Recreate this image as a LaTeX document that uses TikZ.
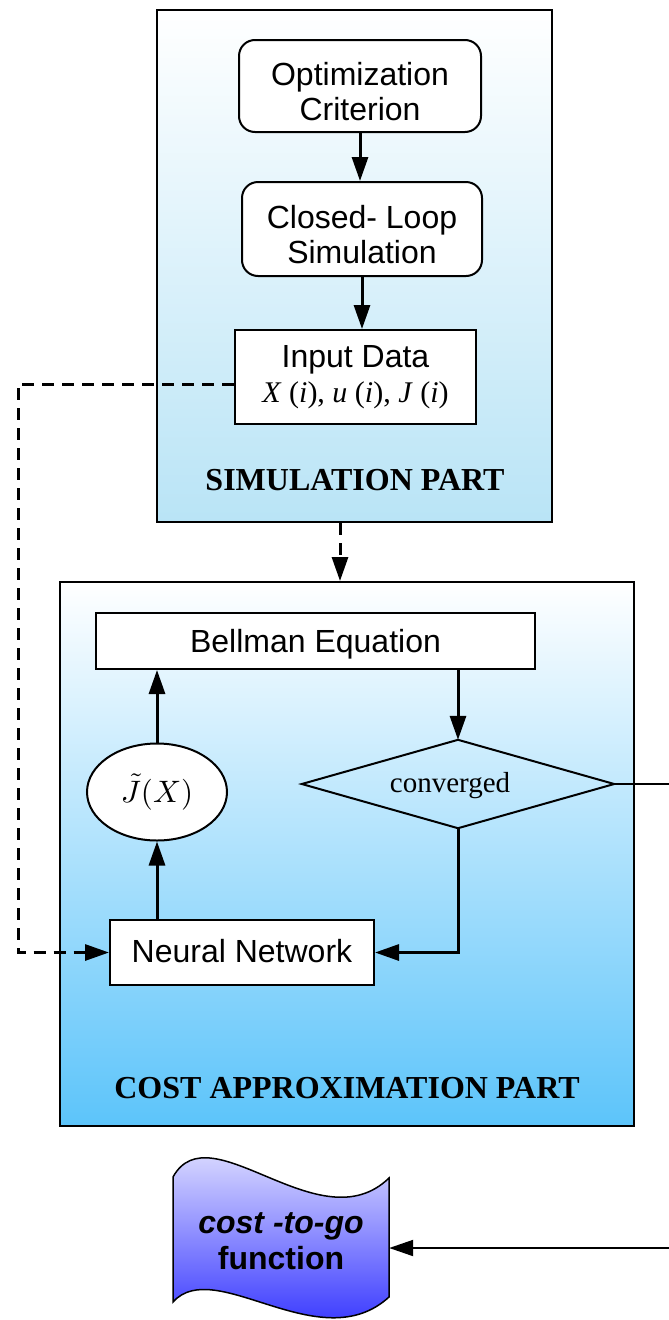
\documentclass[tikz,border=0pt]{standalone}
\usepackage{fontspec}
\setmainfont{Liberation Serif}
\setsansfont{Liberation Sans}
\usetikzlibrary{arrows.meta,shapes.geometric}
\definecolor{simblue}{RGB}{185,228,246}
\definecolor{costblue}{RGB}{92,196,250}
\definecolor{docblue}{RGB}{25,25,255}
\tikzset{
  proc/.style={draw, line width=2pt, fill=white, font=\sffamily\fontsize{32}{36}\selectfont, align=center, inner sep=0pt},
  rproc/.style={proc, rounded corners=16pt},
  frame/.style={draw, line width=2pt, inner sep=0pt},
  arr/.style={line width=3pt, -{Triangle[length=24pt,width=16pt]}},
  darr/.style={arr, dash pattern=on 12pt off 8pt},
  parttitle/.style={font=\bfseries\fontsize{32}{34}\selectfont},
}
\newcommand{\twolines}[2]{\raisebox{-16pt}[0pt][0pt]{\begin{tabular}{@{}c@{}}#1\\[-1pt]#2\end{tabular}}}
\newcommand{\oneline}[2]{\raisebox{-#1}[0pt][0pt]{#2}}
\begin{document}
\begin{tikzpicture}[x=1pt,y=-1pt]
\useasboundingbox (0,0) rectangle (669,1320);
% frames
\node[frame, top color=white, bottom color=simblue, minimum width=395pt, minimum height=512pt] (sim) at (354.5,266) {};
\node[frame, top color=white, bottom color=costblue, minimum width=574pt, minimum height=544pt] (cost) at (347,854) {};
\node[parttitle] (simt) at (355,480) {SIMULATION PART};
\node[parttitle] (costt) at (347,1088) {COST APPROXIMATION PART};
% simulation part
\node[rproc, minimum width=242pt, minimum height=92pt] (opt) at (360,86) {\twolines{Optimization}{Criterion}};
\node[rproc, minimum width=240pt, minimum height=94pt] (cl) at (362,229) {\twolines{Closed- Loop}{Simulation}};
\node[proc, minimum width=241pt, minimum height=94pt] (in) at (355.5,377) {Input Data\\[-1pt]{\rmfamily\fontsize{30}{32}\selectfont\textit{X} (\textit{i}), \textit{u} (\textit{i}), \textit{J} (\textit{i})}};
% cost approximation part
\node[proc, minimum width=439pt, minimum height=56pt] (bell) at (315.5,641) {\oneline{11.5pt}{Bellman Equation}};
\node[draw, line width=2pt, fill=white, ellipse, minimum width=140pt, minimum height=97pt, inner sep=0pt] (ell) at (157,792) {\scalebox{3.1}{$\tilde J(X)$}};
\node[minimum width=312pt, minimum height=88pt, inner sep=0pt] (dia) at (458,784) {};
\draw[line width=2pt] (dia.north) -- (dia.east) -- (dia.south) -- (dia.west) -- cycle;
\node[font=\rmfamily\fontsize{29}{30}\selectfont] (conv) at (450,786) {converged};
\node[proc, minimum width=264pt, minimum height=65pt] (nn) at (242,952.5) {\oneline{9.5pt}{Neural Network}};
% document
\node[minimum width=216pt, minimum height=110pt, inner sep=0pt] (doc) at (281,1248) {};
\draw[line width=1.5pt, top color=white, bottom color=docblue]
  (173,1177) .. controls (210,1110) and (320,1245) .. (389,1178)
  -- (389,1297) .. controls (320,1360) and (215,1255) .. (173,1302) -- cycle;
\node[font=\sffamily\bfseries\fontsize{32}{36}\selectfont, align=center] (doct) at (281,1241) {\textit{cost -to-go}\\function};
% connectors
\draw[arr] (opt.south) -- (opt.south |- cl.north);
\draw[arr] (cl.south) -- (cl.south |- in.north);
\draw[darr] ([xshift=-14.5pt]sim.south) -- ([xshift=-14.5pt]sim.south |- cost.north);
\coordinate (dl) at (18,384);
\draw[darr] ([yshift=-7pt]in.west) -- (dl) |- (nn.west);
\draw[arr] (bell.south -| dia.north) -- (dia.north);
\draw[arr] (ell.north) -- (ell.north |- bell.south);
\draw[arr] (ell.south |- nn.north) -- (ell.south);
\draw[arr] (dia.south) |- (nn.east);
\coordinate (ra) at (669,784);
\coordinate (rb) at (669,1248);
\draw[line width=2pt] (dia.east) -- (ra);
\draw[arr, line width=2pt] (rb) -- (doc.east);
\end{tikzpicture}
\end{document}
